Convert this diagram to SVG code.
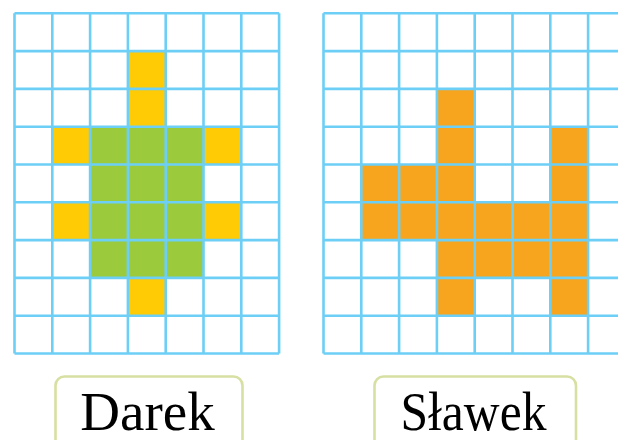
<svg xmlns="http://www.w3.org/2000/svg" width="618" height="440" viewBox="0 0 618 440">
<defs>
<style>
.grid{stroke:#6dcff6;stroke-width:2.6;fill:none}
.y{fill:#ffcb05}
.g{fill:#9bca3c}
.o{fill:#f7a51e}
.box{fill:#ffffff;stroke:#d7e0a2;stroke-width:2.6}
.lbl{font-family:"Liberation Serif","Times New Roman",serif;font-size:55px;fill:#000000}
</style>
</defs>
<rect width="618" height="440" fill="#ffffff"/>
<g id="darek-grid">
<g transform="translate(14.5,13.3)">
<rect class="y" x="113.4" y="37.8" width="37.8" height="37.8"/>
<rect class="y" x="113.4" y="75.6" width="37.8" height="37.8"/>
<rect class="y" x="37.8" y="113.4" width="37.8" height="37.8"/>
<rect class="y" x="189" y="113.4" width="37.8" height="37.8"/>
<rect class="y" x="37.8" y="189" width="37.8" height="37.8"/>
<rect class="y" x="189" y="189" width="37.8" height="37.8"/>
<rect class="y" x="113.4" y="264.6" width="37.8" height="37.8"/>
<rect class="g" x="75.6" y="113.4" width="113.4" height="151.2"/>
<path class="grid" d="M0 0V340.2M37.8 0V340.2M75.6 0V340.2M113.4 0V340.2M151.2 0V340.2M189 0V340.2M226.8 0V340.2M264.6 0V340.2M0 0H264.6M0 37.8H264.6M0 75.6H264.6M0 113.4H264.6M0 151.2H264.6M0 189H264.6M0 226.8H264.6M0 264.6H264.6M0 302.4H264.6M0 340.2H264.6"/>
</g>
</g>
<g id="slawek-grid">
<g transform="translate(323.5,13.3)">
<rect class="o" x="113.4" y="75.6" width="37.8" height="75.6"/>
<rect class="o" x="226.8" y="113.4" width="37.8" height="189"/>
<rect class="o" x="37.8" y="151.2" width="113.4" height="75.6"/>
<rect class="o" x="113.4" y="189" width="113.4" height="75.6"/>
<rect class="o" x="113.4" y="226.8" width="37.8" height="75.6"/>
<path class="grid" d="M0 0V340.2M37.8 0V340.2M75.6 0V340.2M113.4 0V340.2M151.2 0V340.2M189 0V340.2M226.8 0V340.2M264.6 0V340.2M302.4 0V340.2M0 0H302.4M0 37.8H302.4M0 75.6H302.4M0 113.4H302.4M0 151.2H302.4M0 189H302.4M0 226.8H302.4M0 264.6H302.4M0 302.4H302.4M0 340.2H302.4"/>
</g>
</g>
<g id="darek-label">
<rect class="box" x="55.5" y="376.5" width="187" height="80" rx="9"/>
<text class="lbl" x="147.5" y="430" text-anchor="middle">Darek</text>
</g>
<g id="slawek-label">
<rect class="box" x="374.5" y="376.5" width="201.5" height="80" rx="9"/>
<text class="lbl" x="400.5" y="430" textLength="146" lengthAdjust="spacingAndGlyphs">Sławek</text>
</g>
</svg>
